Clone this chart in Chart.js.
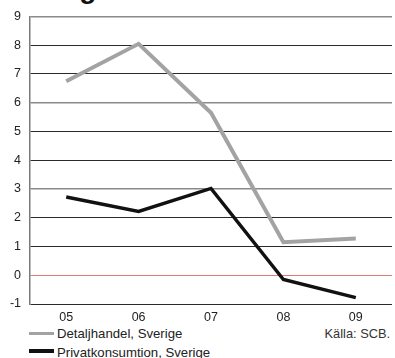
<!DOCTYPE html>
<html>
<head>
<meta charset="utf-8">
<script src="https://cdn.jsdelivr.net/npm/chart.js@4/dist/chart.umd.min.js"></script>
<style>
  body { margin: 0; background: #fff; font-family: "Liberation Sans", Arial, sans-serif; }
  #wrap { position: relative; width: 395px; height: 358px; overflow: hidden; }
  #title { position: absolute; left: 0; top: -27px; width: 96px; text-align: right; font-weight: bold; font-size: 28px; color: #111; white-space: nowrap; }
  #chartBox { position: absolute; left: 0; top: 0; width: 395px; height: 322px; }
  .leg { position: absolute; left: 29px; font-size: 13.2px; color: #222; white-space: nowrap; }
  .sw { position: absolute; left: 0; width: 25px; }
  .leg span.t { position: relative; left: 28px; }
  #source { position: absolute; right: 5px; top: 326px; font-size: 12.8px; color: #333; }
</style>
</head>
<body>
<div id="wrap">
  <div id="title">Ökning</div>
  <div id="chartBox"><canvas id="chart"></canvas></div>
  <div class="leg" style="top:326px"><div class="sw" style="background:#a3a3a3; top:6px; height:3px"></div><span class="t">Detaljhandel, Sverige</span></div>
  <div class="leg" style="top:344.5px"><div class="sw" style="background:#111; top:4.5px; height:4px"></div><span class="t">Privatkonsumtion, Sverige</span></div>
  <div id="source">Källa: SCB.</div>
</div>
<script>
const years = ['05', '06', '07', '08', '09'];
const detaljhandel = [6.75, 8.05, 5.65, 1.15, 1.28];
const privatkonsumtion = [2.72, 2.22, 3.02, -0.15, -0.78];
const yTicks = [-1, 0, 1, 2, 3, 4, 5, 6, 7, 8, 9];

const ctx = document.getElementById('chart').getContext('2d');

function gridColor(c) {
  let v = c.tick ? c.tick.value : null;
  if (v == 0) return '#e07878';
  if (v == 9 || v == 6 || v == 3) return '#8a8a8a';
  return '#2a2a2a';
}

let chart = new Chart(ctx, {
  type: 'line',
  data: {
    labels: years,
    datasets: [
      {
        label: 'Detaljhandel, Sverige',
        data: detaljhandel,
        borderColor: '#a3a3a3',
        borderWidth: 4,
        pointRadius: 0,
        tension: 0,
      },
      {
        label: 'Privatkonsumtion, Sverige',
        data: privatkonsumtion,
        borderColor: '#111',
        borderWidth: 3.5,
        pointRadius: 0,
        tension: 0,
      },
    ],
  },
  options: {
    responsive: true,
    maintainAspectRatio: false,
    animation: false,
    layout: { padding: { top: 16, right: 3, left: 0, bottom: 0 } },
    plugins: { legend: { display: false }, tooltip: { enabled: false } },
    scales: {
      x: {
        offset: true,
        grid: { display: false, drawTicks: false },
        border: { display: false },
        ticks: { color: '#222', font: { family: 'Liberation Sans', size: 12.5 }, padding: 6, maxRotation: 0 },
        afterFit: function(scale) { scale.height = 18; },
      },
      y: {
        min: -1,
        max: 9,
        afterBuildTicks: function(scale) { scale.ticks = yTicks.map(v => ({ value: v })); },
        grid: { color: gridColor, lineWidth: c => (c.tick && (c.tick.value == 9 || c.tick.value == 6 || c.tick.value == 3)) ? 1.5 : 1, drawTicks: false },
        border: { display: true, color: '#7a7a7a', width: 1.5 },
        ticks: { color: '#222', font: { family: 'Liberation Sans', size: 12.5 }, padding: 9 },
        afterFit: function(scale) { scale.width = 30; },
      },
    },
  },
});
</script>
</body>
</html>
